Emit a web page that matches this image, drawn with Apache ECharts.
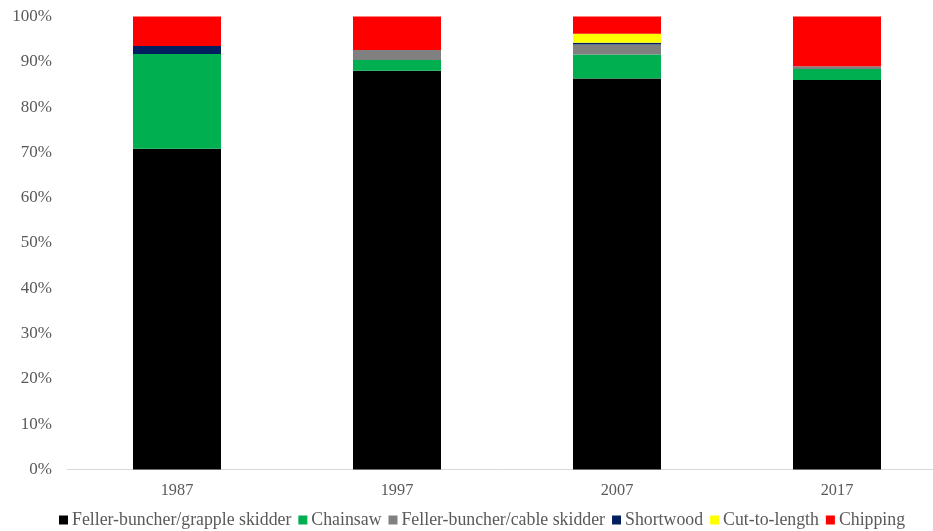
<!DOCTYPE html>
<html><head><meta charset="utf-8">
<script src="https://cdn.jsdelivr.net/npm/echarts@6/dist/echarts.min.js"></script>
<style>html,body{margin:0;padding:0;background:#fff;overflow:hidden}#c{width:933px;height:531px}</style>
</head><body><div id="c"></div>
<script>
const categories = ['1987','1997','2007','2017'];
const fellerGrapple = [70.8, 88.0, 86.3, 86.0];
const chainsaw = [20.9, 2.4, 5.3, 2.4];
const fellerCable = [0, 2.2, 2.2, 0.6];
const shortwood = [1.8, 0, 0.4, 0];
const cutToLength = [0, 0, 2.0, 0];
const chipping = [6.5, 7.4, 3.8, 11.0];
const yTicks = [0,10,20,30,40,50,60,70,80,90,100];

const seriesDefs = [
  ['Feller-buncher/grapple skidder', fellerGrapple, '#000000'],
  ['Chainsaw', chainsaw, '#00b050'],
  ['Feller-buncher/cable skidder', fellerCable, '#808080'],
  ['Shortwood', shortwood, '#002060'],
  ['Cut-to-length', cutToLength, '#ffff00'],
  ['Chipping', chipping, '#ff0000']
];
const font = 'Liberation Serif';
const chart = echarts.init(document.getElementById('c'));
chart.setOption({
  animation: false,
  grid: {left: 67, width: 880, top: 16.5, bottom: 61.5, containLabel: false, outerBoundsMode: 'none'},
  legend: {
    top: 511, left: 59, itemWidth: 9, itemHeight: 9, itemGap: 7, padding: 0,
    icon: 'rect',
    textStyle: {fontFamily: font, fontSize: 17.8, lineHeight: 18, color: '#595959', padding: [0,0,0,-1]},
    data: seriesDefs.map(s => s[0])
  },
  xAxis: {
    type: 'category', data: categories,
    axisLine: {lineStyle: {color: '#d9d9d9', width: 1}},
    axisTick: {show: false},
    axisLabel: {fontFamily: font, fontSize: 16.3, color: '#595959', margin: 13}
  },
  yAxis: {
    type: 'value', min: 0, max: 100, interval: 10,
    splitLine: {show: false},
    axisLine: {show: false}, axisTick: {show: false},
    axisLabel: {fontFamily: font, fontSize: 17, color: '#595959', margin: 15,
      formatter: v => yTicks.includes(v) ? v + '%' : ''}
  },
  series: seriesDefs.map(([name, data, color]) => ({
    name, type: 'bar', stack: 'total', data, barWidth: 88,
    itemStyle: {color}
  }))
});
</script></body></html>
